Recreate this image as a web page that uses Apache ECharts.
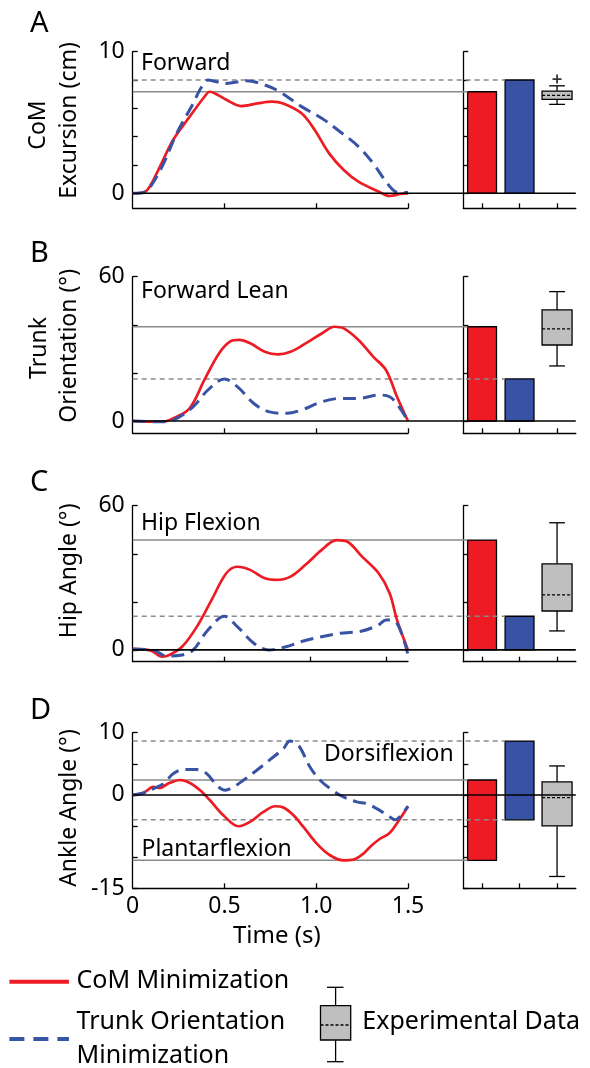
<!DOCTYPE html>
<html>
<head>
<meta charset="utf-8">
<script src="https://cdn.jsdelivr.net/npm/echarts@6/dist/echarts.min.js"></script>
<style>
  html, body { margin: 0; padding: 0; background: #fff; }
  #chart { width: 590px; height: 1068px; }
</style>
</head>
<body>
<div id="chart"></div>
<script>
// A - CoM excursion (cm)
const tComA = [0, 0.04, 0.08, 0.14, 0.22, 0.31, 0.39, 0.42, 0.47, 0.51, 0.59, 0.68, 0.76, 0.82, 0.92, 0.99, 1.07, 1.15, 1.23, 1.34, 1.40, 1.46, 1.50]
const comA = [0, 0.02, 0.24, 1.65, 3.76, 5.4, 6.8, 7.17, 6.9, 6.6, 6.16, 6.35, 6.47, 6.35, 5.65, 4.5, 2.82, 1.65, 0.82, 0.12, -0.19, -0.05, 0]
const tTrunkA = [0, 0.04, 0.08, 0.16, 0.24, 0.33, 0.37, 0.41, 0.45, 0.51, 0.62, 0.72, 0.80, 0.92, 1.03, 1.13, 1.23, 1.31, 1.38, 1.43, 1.46, 1.50]
const trunkA = [0, 0.02, 0.19, 1.88, 4.24, 6.35, 7.4, 8.0, 7.9, 7.76, 7.95, 7.65, 7.18, 6.12, 5.3, 4.35, 3.3, 2.12, 0.82, 0.12, 0.05, 0.05]
// B - trunk orientation (deg)
const tComB = [0, 0.10, 0.16, 0.22, 0.31, 0.39, 0.47, 0.53, 0.58, 0.64, 0.72, 0.79, 0.86, 0.94, 1.03, 1.10, 1.15, 1.23, 1.31, 1.38, 1.44, 1.50]
const comB = [0, -0.3, -0.3, 1.1, 5.3, 17.0, 28.1, 33.0, 33.7, 32.3, 28.8, 27.7, 28.8, 32.2, 36.4, 39.2, 38.5, 33.7, 26.8, 21.2, 10.1, 0]
const tTrunkB = [0, 0.16, 0.24, 0.33, 0.41, 0.50, 0.57, 0.66, 0.74, 0.84, 0.92, 1.03, 1.13, 1.23, 1.34, 1.40, 1.45, 1.50]
const trunkB = [0, -0.3, 1.1, 6.0, 12.9, 17.5, 14.3, 7.3, 3.9, 3.2, 4.6, 8.0, 9.4, 9.4, 10.8, 10.1, 6.0, 0]
// C - hip angle (deg)
const tComC = [0, 0.10, 0.16, 0.20, 0.27, 0.35, 0.43, 0.51, 0.57, 0.64, 0.72, 0.78, 0.86, 0.94, 1.03, 1.11, 1.17, 1.25, 1.34, 1.40, 1.44, 1.50]
const comC = [0.4, -0.3, -2.8, -2.1, 1.4, 9.7, 20.8, 31.9, 34.6, 33.3, 29.8, 29.1, 30.5, 35.3, 41.6, 45.7, 45.0, 38.8, 31.9, 23.6, 12.5, 0]
const tTrunkC = [0, 0.12, 0.18, 0.27, 0.33, 0.41, 0.50, 0.57, 0.66, 0.74, 0.84, 0.92, 1.03, 1.13, 1.25, 1.34, 1.38, 1.44, 1.50]
const trunkC = [0.4, -0.3, -2.5, -2.1, 0, 8.3, 14.0, 9.7, 2.8, 0, 1.4, 3.5, 5.5, 6.9, 7.9, 10.4, 12.5, 11.1, -2.1]
// D - ankle angle (deg)
const tComD = [0, 0.058, 0.113, 0.149, 0.194, 0.258, 0.312, 0.367, 0.421, 0.494, 0.576, 0.639, 0.712, 0.776, 0.821, 0.876, 0.930, 1.003, 1.075, 1.148, 1.203, 1.257, 1.293, 1.34, 1.40, 1.44, 1.50]
const comD = [0, 0.32, 1.28, 1.12, 1.82, 2.4, 1.93, 0.75, -0.86, -3.27, -5.03, -4.33, -2.73, -1.82, -2.03, -3.27, -5.14, -7.82, -9.69, -10.5, -10.39, -9.42, -8.35, -7.2, -6.1, -4.55, -1.87]
const tTrunkD = [0, 0.058, 0.113, 0.167, 0.222, 0.276, 0.349, 0.403, 0.458, 0.503, 0.549, 0.603, 0.676, 0.748, 0.821, 0.857, 0.903, 0.966, 1.021, 1.094, 1.148, 1.221, 1.275, 1.33, 1.40, 1.43, 1.47, 1.50]
const trunkD = [0, 0.32, 1.02, 1.82, 3.43, 4.07, 4.07, 3.43, 1.55, 0.75, 1.28, 2.36, 3.96, 5.67, 7.44, 8.65, 7.98, 4.5, 2.36, 0.64, -0.32, -1.12, -1.39, -2.2, -3.5, -4.0, -3.0, -1.8]

// bar panels: [low, high] of each simulation, experimental box [min, q1, median, q3, max]
const comPeak = [[0, 7.17], [0, 39.2], [0, 45.7], [-10.5, 2.4]]
const trunkPeak = [[0, 8.0], [0, 17.5], [0, 14.0], [-4.0, 8.65]]
const expBox = [[6.28, 6.63, 6.92, 7.22, 7.59], [22.9, 31.6, 38.3, 46.2, 53.8], [7.9, 16.2, 22.9, 35.8, 52.9], [-13.1, -4.98, -0.43, 2.09, 4.66]]
const expOutlier = [[8.07], [], [], []]

// axes
const yMin = [-1.06, -5.1, -4.9, -15]
const yMax = [10, 60, 60, 10]
const yTicks = [[0, 2, 4, 6, 8, 10], [0, 20, 40, 60], [0, 20, 40, 60], [-15, -10, -5, 0, 5, 10]]
const yLabels = [[0, 10], [0, 60], [0, 60], [-15, 0, 10]]
const xTicks = [[0.5, 1, 1.5], [0.5, 1, 1.5], [0.5, 0.965, 1.38], [0.5, 1, 1.5]]
const xLabels = [0, 0.5, 1.0, 1.5]
const panelLetters = ['A', 'B', 'C', 'D']

const RED = '#ED1C24'
const BLUE = '#3953A4'
const GRAY = '#8a8a8a'
const FONT = 'Noto Sans'

// layout
const LEFT_X = 132.7
const LEFT_W = 275.3
const RIGHT_X = 463.3
const RIGHT_W = 112.5
const tops = [51.7, 276.7, 505.7, 732.7]
const heights = [156.6, 156.6, 156, 155.6]
const BAR_W = 0.77
const BOX_W = 0.8
const CAP_W = 0.42

const chart = echarts.init(document.getElementById('chart'))

function axisCommon() {
  return {
    axisLine: { show: true, onZero: false, lineStyle: { color: '#000', width: 1.3 } },
    splitLine: { show: false }
  }
}

// simulated peak bars, plus the grey guide line back to the time plot
function renderSim(params, api) {
  const x = api.value(0), lo = api.value(1), hi = api.value(2), kind = api.value(3)
  const bw = api.size([BAR_W, 0])[0]
  const pTop = api.coord([x, hi])
  const pBot = api.coord([x, lo])
  const left = pTop[0] - bw / 2
  const children = [{
    type: 'rect',
    shape: { x: left, y: pTop[1], width: bw, height: pBot[1] - pTop[1] },
    style: { fill: kind ? BLUE : RED, stroke: '#000', lineWidth: 1.3 }
  }]
  ;[lo, hi].forEach(v => {
    if (v === 0) return
    const y = api.coord([x, v])[1]
    const style = { stroke: GRAY, lineWidth: 1.5 }
    if (kind) style.lineDash = [5, 4]
    children.push({ type: 'line', shape: { x1: LEFT_X, y1: y, x2: left, y2: y }, style })
  })
  return { type: 'group', children }
}

function renderBox(params, api) {
  const x = api.value(0)
  const v = [1, 2, 3, 4, 5].map(d => api.coord([x, api.value(d)])[1])
  const cx = api.coord([x, 0])[0]
  const bw = api.size([BOX_W, 0])[0]
  const cw = api.size([CAP_W, 0])[0]
  const ln = (x1, y1, x2, y2, extra) => ({
    type: 'line', shape: { x1, y1, x2, y2 },
    style: Object.assign({ stroke: '#000', lineWidth: 1.3 }, extra || {})
  })
  return {
    type: 'group',
    children: [
      ln(cx, v[0], cx, v[1]),
      ln(cx, v[3], cx, v[4]),
      ln(cx - cw / 2, v[0], cx + cw / 2, v[0]),
      ln(cx - cw / 2, v[4], cx + cw / 2, v[4]),
      { type: 'rect', shape: { x: cx - bw / 2, y: v[3], width: bw, height: v[1] - v[3] }, style: { fill: '#BFBFBF', stroke: '#000', lineWidth: 1.3 } },
      ln(cx - bw / 2, v[2], cx + bw / 2, v[2], { lineDash: [3, 2] })
    ]
  }
}

function renderZero(params, api) {
  const y = api.coord([1, 0])[1]
  const cs = params.coordSys
  return { type: 'line', shape: { x1: LEFT_X, y1: y, x2: cs.x + cs.width, y2: y }, style: { stroke: '#000', lineWidth: 1.6 } }
}

const comT = [tComA, tComB, tComC, tComD]
const comV = [comA, comB, comC, comD]
const trunkT = [tTrunkA, tTrunkB, tTrunkC, tTrunkD]
const trunkV = [trunkA, trunkB, trunkC, trunkD]

const grid = [], xAxis = [], yAxis = [], series = []
for (let i = 0; i < 4; i++) {
  const last = i === 3
  grid.push({ left: LEFT_X, top: tops[i], width: LEFT_W, height: heights[i], outerBoundsMode: 'none' })
  grid.push({ left: RIGHT_X, top: tops[i], width: RIGHT_W, height: heights[i], outerBoundsMode: 'none' })

  xAxis.push(Object.assign(axisCommon(), {
    type: 'value', gridIndex: 2 * i, min: 0, max: 1.5,
    axisTick: { show: true, inside: true, length: 5, customValues: xTicks[i], lineStyle: { color: '#000', width: 1.3 } },
    axisLabel: {
      show: last, customValues: xLabels, margin: 7, color: '#000', fontFamily: FONT, fontSize: 23,
      formatter: v => (v === 0 ? '0' : v.toFixed(1))
    },
    name: last ? 'Time (s)' : '',
    nameLocation: 'middle', nameGap: 36,
    nameTextStyle: { color: '#000', fontFamily: FONT, fontSize: 24, padding: [0, 0, 0, 13] }
  }))
  xAxis.push(Object.assign(axisCommon(), {
    type: 'value', gridIndex: 2 * i + 1, min: 0.5, max: 3.5,
    axisTick: { show: true, inside: true, length: 5, customValues: [1, 2, 3], lineStyle: { color: '#000', width: 1.3 } },
    axisLabel: { show: false }
  }))
  yAxis.push(Object.assign(axisCommon(), {
    type: 'value', gridIndex: 2 * i, min: yMin[i], max: yMax[i],
    axisTick: { show: true, inside: true, length: 5, customValues: yTicks[i], lineStyle: { color: '#000', width: 1.3 } },
    axisLabel: { show: true, customValues: yLabels[i], margin: 8, color: '#000', fontFamily: FONT, fontSize: 23 }
  }))
  yAxis.push(Object.assign(axisCommon(), {
    type: 'value', gridIndex: 2 * i + 1, min: yMin[i], max: yMax[i],
    axisTick: { show: true, inside: true, length: 5, customValues: yTicks[i], lineStyle: { color: '#000', width: 1.3 } },
    axisLabel: { show: false }
  }))

  series.push({
    name: 'CoM Minimization', type: 'line', xAxisIndex: 2 * i, yAxisIndex: 2 * i, z: 3,
    smooth: 0.35, showSymbol: false, symbol: 'none',
    lineStyle: { color: RED, width: 2.7 },
    data: comT[i].map((t, k) => [t, comV[i][k]])
  })
  series.push({
    name: 'Trunk Orientation Minimization', type: 'line', xAxisIndex: 2 * i, yAxisIndex: 2 * i, z: 3,
    smooth: 0.35, showSymbol: false, symbol: 'none',
    lineStyle: { color: BLUE, width: 3, type: [13, 7] },
    data: trunkT[i].map((t, k) => [t, trunkV[i][k]])
  })
  series.push({
    type: 'custom', xAxisIndex: 2 * i + 1, yAxisIndex: 2 * i + 1, z: 2,
    renderItem: renderSim,
    data: [[1, comPeak[i][0], comPeak[i][1], 0], [2, trunkPeak[i][0], trunkPeak[i][1], 1]]
  })
  series.push({
    type: 'custom', xAxisIndex: 2 * i + 1, yAxisIndex: 2 * i + 1, z: 2,
    renderItem: renderBox,
    data: [[3].concat(expBox[i])]
  })
  series.push({
    type: 'scatter', xAxisIndex: 2 * i + 1, yAxisIndex: 2 * i + 1, z: 3,
    symbol: 'path://M4 0h2v4h4v2h-4v4h-2v-4h-4v-2h4z', symbolSize: 9,
    itemStyle: { color: '#000' },
    data: expOutlier[i].map(v => [3, v])
  })
  series.push({
    type: 'custom', xAxisIndex: 2 * i + 1, yAxisIndex: 2 * i + 1, z: 4,
    renderItem: renderZero,
    data: [[1, 0]]
  })
}

const txt = (text, x, y, size, extra) => Object.assign({
  type: 'text', x, y, silent: true,
  style: { text, fill: '#000', font: size + 'px "' + FONT + '"', align: 'left', verticalAlign: 'middle' }
}, extra || {})
const vtxt = (text, x, y) => txt(text, x, y, 23, { rotation: Math.PI / 2, style: { text, fill: '#000', font: '23px "' + FONT + '"', align: 'center', verticalAlign: 'middle' } })

const letterY = [24, 254, 482.5, 711]
const graphic = [
  ...panelLetters.map((l, i) => txt(l, 30, letterY[i], 29)),
  txt('Forward', 141, 63, 23),
  txt('Forward Lean', 141, 291.7, 23),
  txt('Hip Flexion', 141, 523, 23),
  txt('Dorsiflexion', 324, 754.5, 23),
  txt('Plantarflexion', 141.5, 849, 23),
  vtxt('CoM', 38, 125),
  vtxt('Excursion (cm)', 69.7, 120.5),
  vtxt('Trunk', 39.5, 348),
  vtxt('Orientation (°)', 69.7, 345.8),
  vtxt('Hip Angle (°)', 69.7, 570.8),
  vtxt('Ankle Angle (°)', 69.7, 808),
  // legend
  { type: 'line', shape: { x1: 9.4, y1: 981.7, x2: 68.9, y2: 981.7 }, style: { stroke: RED, lineWidth: 4 } },
  txt('CoM Minimization', 76.5, 981, 25),
  { type: 'line', shape: { x1: 9.4, y1: 1039, x2: 68.9, y2: 1039 }, style: { stroke: BLUE, lineWidth: 4, lineDash: [15, 9] } },
  txt('Trunk Orientation', 76.5, 1021.7, 25),
  txt('Minimization', 76.5, 1056, 25),
  { type: 'line', shape: { x1: 335.6, y1: 987.3, x2: 335.6, y2: 1005.7 }, style: { stroke: '#000', lineWidth: 1.3 } },
  { type: 'line', shape: { x1: 335.6, y1: 1040, x2: 335.6, y2: 1061.7 }, style: { stroke: '#000', lineWidth: 1.3 } },
  { type: 'line', shape: { x1: 327, y1: 987.3, x2: 343.5, y2: 987.3 }, style: { stroke: '#000', lineWidth: 1.3 } },
  { type: 'line', shape: { x1: 327, y1: 1061.7, x2: 343.5, y2: 1061.7 }, style: { stroke: '#000', lineWidth: 1.3 } },
  { type: 'rect', shape: { x: 320.5, y: 1005.7, width: 30.2, height: 34.3 }, style: { fill: '#BFBFBF', stroke: '#000', lineWidth: 1.3 } },
  { type: 'line', shape: { x1: 320.5, y1: 1025, x2: 350.7, y2: 1025 }, style: { stroke: '#000', lineWidth: 1.3, lineDash: [3, 2] } },
  txt('Experimental Data', 362.3, 1021.7, 25)
]

chart.setOption({
  animation: false,
  backgroundColor: '#fff',
  textStyle: { fontFamily: FONT },
  grid,
  xAxis,
  yAxis,
  series,
  graphic
})
</script>
</body>
</html>
